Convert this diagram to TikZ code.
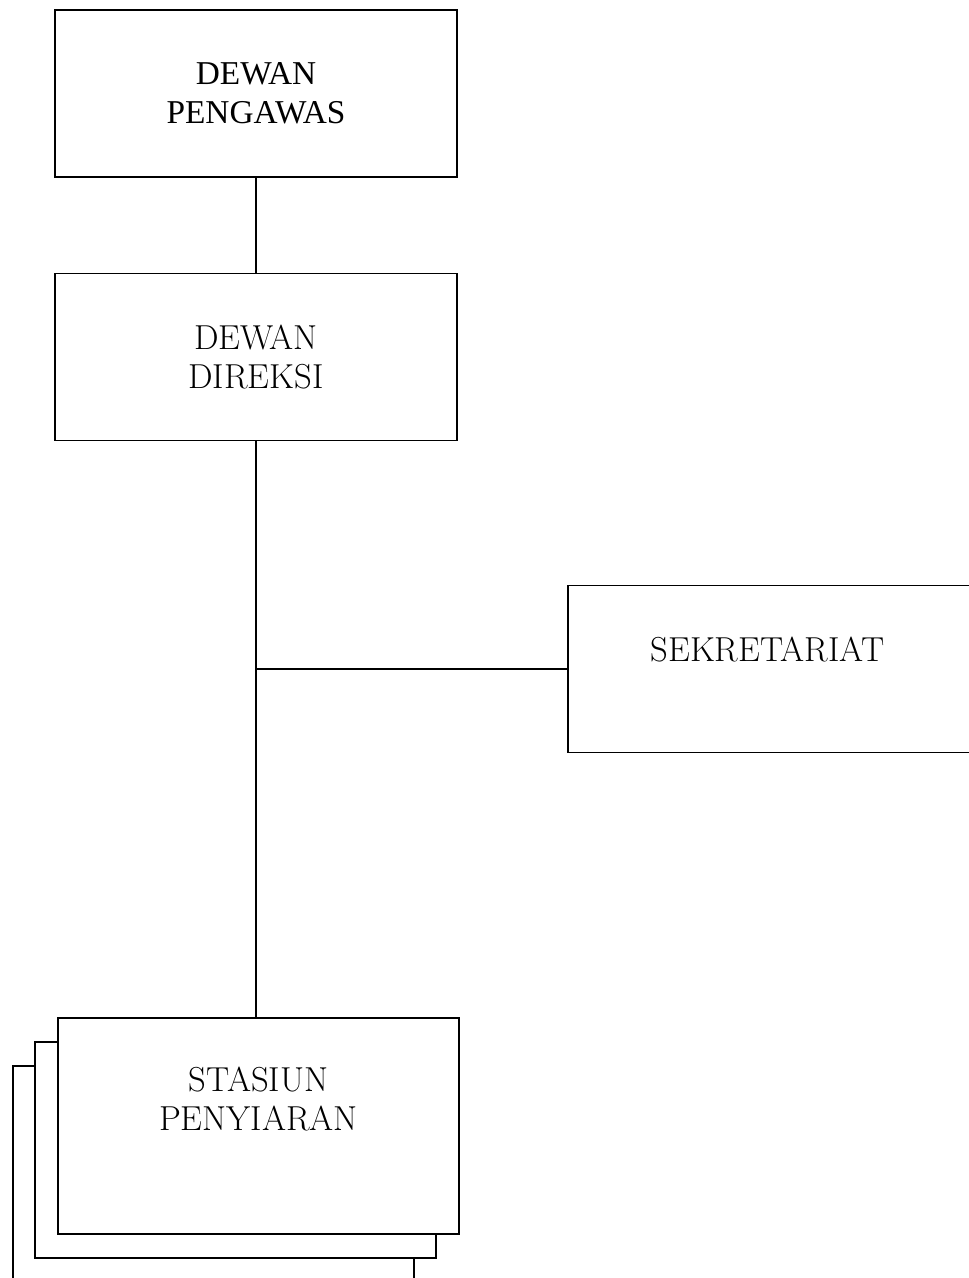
\documentclass[tikz,border=0pt]{standalone}
\usepackage{fontspec}
\newfontfamily\timesfont{Liberation Serif}
\usetikzlibrary{positioning}

\tikzset{
  unitbox/.style={draw, line width=1.4pt, fill=white, align=center, inner sep=0pt,
    minimum width=301.5pt, minimum height=125.25pt, font=\fontsize{26}{29}\selectfont},
  stationbox/.style={unitbox, minimum width=300.75pt, minimum height=162pt},
  link/.style={line width=1.4pt}
}

\begin{document}
\begin{tikzpicture}[x=0.75pt,y=-0.75pt]
        \useasboundingbox (0,0) rectangle (968,1278);

        \node[unitbox, font=\fontsize{25}{29}\selectfont\timesfont] (pengawas) at (256,93.5) {DEWAN\\PENGAWAS};
        \node[unitbox] (direksi) at (256,357) {DEWAN\\DIREKSI};
        \node[unitbox, minimum width=315pt] (sekretariat) at (778,669) {\hspace*{-16pt}SEKRETARIAT\\\mbox{}};

        % stacked stations, back to front
        \foreach \n/\x/\y in {3/213.5/1174, 2/235.5/1150} {
          \node[stationbox] (stasiun\n) at (\x,\y) {};
        }
        \node[stationbox] (stasiun) at (258.5,1126) {STASIUN\\PENYIARAN\\[12pt]\mbox{}};

        \draw[link] (pengawas.south) -- (direksi.north);
        \draw[link] (direksi.south) -- (direksi.south |- stasiun.north);
        \draw[link] (sekretariat.west) -- (sekretariat.west -| direksi.south);
      \end{tikzpicture}
\end{document}
